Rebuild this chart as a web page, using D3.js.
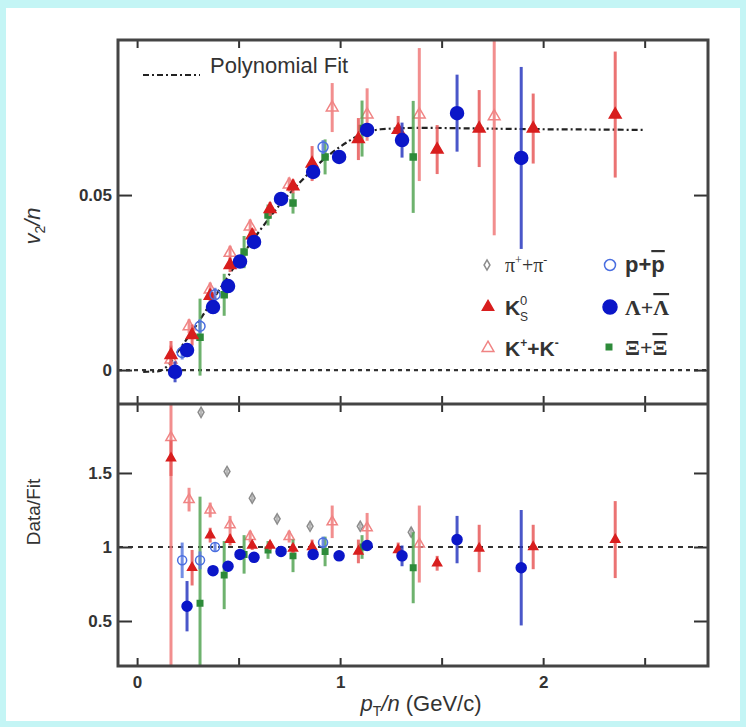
<!DOCTYPE html>
<html>
<head>
<meta charset="utf-8">
<script src="https://cdn.jsdelivr.net/npm/d3@7"></script>
<style>
  body { margin: 0; background: #c4f5f5; }
  svg { display: block; }
  text { font-family: "Liberation Sans", Arial, sans-serif; fill: #333; }
  .serif { font-family: "Liberation Serif", "Times New Roman", serif; }
</style>
</head>
<body>
<svg id="chart" width="746" height="727"></svg>
<script>

////////// DATA //////////

// polynomial fit
const fitPt = [0.03, 0.10, 0.15, 0.20, 0.25, 0.30, 0.35, 0.40, 0.50, 0.60, 0.70, 0.80, 0.90, 1.00, 1.10, 1.20, 1.40, 1.70, 2.00, 2.30, 2.49];
const fitV2 = [-0.0005, -0.0004, 0.0012, 0.0052, 0.0093, 0.0135, 0.0180, 0.0225, 0.0313, 0.0395, 0.0470, 0.0535, 0.0592, 0.0638, 0.0672, 0.0688, 0.0692, 0.0690, 0.0688, 0.0687, 0.0686];

// pi+ + pi- (only the ratio panel)
const pionPt = [0.315, 0.443, 0.567, 0.690, 0.852, 1.099, 1.350];
const pionRatio = [1.91, 1.51, 1.33, 1.19, 1.14, 1.14, 1.10];
const pionRatioErr = [0.02, 0.02, 0.02, 0.02, 0.02, 0.02, 0.03];

// K0s
const k0sPt = [0.167, 0.271, 0.360, 0.458, 0.567, 0.655, 0.768, 0.862, 1.090, 1.286, 1.478, 1.685, 1.951, 2.355];
const k0sV2 = [0.0043, 0.0100, 0.0212, 0.0300, 0.0385, 0.0460, 0.0525, 0.0590, 0.0660, 0.0686, 0.0630, 0.0690, 0.0690, 0.0730];
const k0sV2Err = [0.004, 0.003, 0.002, 0.002, 0.002, 0.002, 0.002, 0.005, 0.006, 0.004, 0.007, 0.011, 0.010, 0.018];
const k0sRatio = [1.60, 0.86, 1.08, 1.05, 1.01, 1.01, 0.99, 1.00, 0.97, 0.98, 0.89, 0.99, 1.00, 1.05];
const k0sRatioErr = [0.12, 0.12, 0.05, 0.04, 0.03, 0.03, 0.03, 0.05, 0.08, 0.05, 0.05, 0.16, 0.15, 0.26];

// K+ + K-
const kchPt = [0.167, 0.256, 0.360, 0.458, 0.557, 0.749, 0.961, 1.133, 1.390, 1.759];
const kchV2 = [0.0030, 0.0125, 0.0230, 0.0335, 0.0410, 0.0530, 0.0750, 0.0730, 0.0730, 0.0725];
const kchV2Err = [0.004, 0.002, 0.002, 0.002, 0.002, 0.002, 0.007, 0.0075, 0.019, 0.034];
const kchRatio = [1.74, 1.32, 1.25, 1.15, 1.07, 1.07, 1.17, 1.13, 1.02, null];
const kchRatioErr = [1.60, 0.08, 0.05, 0.06, 0.04, 0.04, 0.11, 0.10, 0.26, null];

// p + pbar
const protPt = [0.222, 0.310, 0.384, 0.916];
const protV2 = [0.0050, 0.0125, 0.0215, 0.0637];
const protV2Err = [0.002, 0.002, 0.002, 0.002];
const protRatio = [0.91, 0.91, 1.00, 1.03];
const protRatioErr = [0.12, 0.06, 0.03, 0.04];

// Lambda + Lambdabar
const lamPt = [0.187, 0.246, 0.374, 0.448, 0.507, 0.576, 0.709, 0.867, 0.995, 1.133, 1.305, 1.576, 1.892];
const lamV2 = [-0.0005, 0.0057, 0.0180, 0.0240, 0.0310, 0.0366, 0.0489, 0.0566, 0.0609, 0.0686, 0.0657, 0.0734, 0.0606];
const lamV2Err = [0.003, 0.002, 0.0015, 0.0015, 0.0015, 0.0015, 0.0015, 0.0015, 0.0015, 0.002, 0.005, 0.011, 0.026];
const lamRatio = [null, 0.60, 0.84, 0.87, 0.95, 0.93, 0.97, 0.95, 0.94, 1.01, 0.94, 1.05, 0.86];
const lamRatioErr = [null, 0.17, 0.03, 0.03, 0.03, 0.03, 0.02, 0.02, 0.02, 0.03, 0.07, 0.16, 0.39];

// Xi + Xibar
const xiPt = [0.310, 0.429, 0.527, 0.645, 0.768, 0.926, 1.108, 1.360];
const xiV2 = [0.0094, 0.0215, 0.0337, 0.0443, 0.0477, 0.0609, 0.0690, 0.0609];
const xiV2Err = [0.011, 0.006, 0.0046, 0.003, 0.003, 0.005, 0.008, 0.016];
const xiRatio = [0.62, 0.81, 0.95, 0.98, 0.94, 0.97, 1.00, 0.86];
const xiRatioErr = [0.72, 0.23, 0.13, 0.06, 0.11, 0.10, 0.08, 0.24];

// ticks and reference lines
const xTicks = [0, 0.5, 1, 1.5, 2, 2.5];
const xTickLabels = [0, 1, 2];
const yTopTicks = [0, 0.05];
const yBotTicks = [0.5, 1, 1.5];
const topRef = [0];
const botRef = [1];


////////// SETUP //////////

const svg = d3.select("#chart");

const frame = { left: 118, right: 708, top: 40, mid: 404, bottom: 666 };

const x = d3.scaleLinear().domain([-0.094, 2.812]).range([frame.left, frame.right]);
const yTop = d3.scaleLinear().domain([-0.0097, 0.0943]).range([frame.mid, frame.top]);
const yBot = d3.scaleLinear().domain([0.196, 1.966]).range([frame.bottom, frame.mid]);

// white sheet on cyan backdrop
svg.append("rect")
    .attr("x", 6).attr("y", 8)
    .attr("width", 734).attr("height", 713)
    .attr("fill", "white");

let defs = svg.append("defs");
defs.append("clipPath").attr("id", "clipTop")
  .append("rect")
    .attr("x", frame.left).attr("y", frame.top)
    .attr("width", frame.right - frame.left).attr("height", frame.mid - frame.top);
defs.append("clipPath").attr("id", "clipBot")
  .append("rect")
    .attr("x", frame.left).attr("y", frame.mid)
    .attr("width", frame.right - frame.left).attr("height", frame.bottom - frame.mid);

let topG = svg.append("g").attr("clip-path", "url(#clipTop)");
let botG = svg.append("g").attr("clip-path", "url(#clipBot)");


////////// REFERENCE LINES //////////

topG.selectAll(".ref")
    .data(topRef)
    .join("line")
    .attr("x1", frame.left).attr("x2", frame.right)
    .attr("y1", d => yTop(d)).attr("y2", d => yTop(d))
    .attr("stroke", "#333").attr("stroke-width", 2.2)
    .attr("stroke-dasharray", "4,4");

botG.selectAll(".ref")
    .data(botRef)
    .join("line")
    .attr("x1", frame.left).attr("x2", frame.right)
    .attr("y1", d => yBot(d)).attr("y2", d => yBot(d))
    .attr("stroke", "#333").attr("stroke-width", 2.2)
    .attr("stroke-dasharray", "5,5");

let fitLine = d3.line()
    .x((d, i) => x(fitPt[i]))
    .y(d => yTop(d))
    .curve(d3.curveMonotoneX);

topG.append("path")
    .datum(fitV2)
    .attr("d", fitLine)
    .attr("fill", "none")
    .attr("stroke", "#222")
    .attr("stroke-width", 2.2)
    .attr("stroke-dasharray", "6,3,2,3");


////////// DATA POINTS //////////

function marker(sel, shape, size, fill, stroke) {
  if (shape == "circle") {
    sel.append("circle")
      .attr("r", size)
      .attr("fill", fill)
      .attr("stroke", stroke)
      .attr("stroke-width", 1.5);
  } else {
    let type = { triangle: d3.symbolTriangle, diamond: d3.symbolDiamond, square: d3.symbolSquare }[shape];
    sel.append("path")
      .attr("d", d3.symbol().type(type).size(size))
      .attr("fill", fill)
      .attr("stroke", stroke)
      .attr("stroke-width", 1.5);
  }
}

function drawSeries(g, yScale, xs, ys, es, st) {
  let pts = xs.map((d, i) => ({ x: d, y: ys[i], e: es[i] })).filter(d => d.y != null);

  g.append("g").selectAll("line")
      .data(pts)
      .join("line")
      .attr("x1", d => x(d.x)).attr("x2", d => x(d.x))
      .attr("y1", d => yScale(d.y - d.e)).attr("y2", d => yScale(d.y + d.e))
      .attr("stroke", st.bar)
      .attr("stroke-width", 3)
      .attr("stroke-opacity", 0.85);

  let m = g.append("g").selectAll("g")
      .data(pts)
      .join("g")
      .attr("transform", d => "translate(" + x(d.x) + "," + yScale(d.y) + ")");
  marker(m, st.shape, st.size, st.fill, st.stroke);
}

const styles = {
  pion: { shape: "diamond", fill: "none", stroke: "#8c8c8c", bar: "#aaaaaa" },
  kch:  { shape: "triangle", fill: "none", stroke: "#f08484", bar: "#f07a7a" },
  k0s:  { shape: "triangle", fill: "#d81e1e", stroke: "#d81e1e", bar: "#e85a5a" },
  prot: { shape: "circle", fill: "none", stroke: "#4a6ee0", bar: "#5a7ae0" },
  lam:  { shape: "circle", fill: "#0b16c8", stroke: "#0b16c8", bar: "#2a3ac0" },
  xi:   { shape: "square", fill: "#2e8b3a", stroke: "#2e8b3a", bar: "#55a455" }
};

function sized(st, size) { return Object.assign({}, st, { size: size }); }

// top panel
drawSeries(topG, yTop, kchPt, kchV2, kchV2Err, sized(styles.kch, 60));
drawSeries(topG, yTop, xiPt, xiV2, xiV2Err, sized(styles.xi, 36));
drawSeries(topG, yTop, k0sPt, k0sV2, k0sV2Err, sized(styles.k0s, 60));
drawSeries(topG, yTop, protPt, protV2, protV2Err, sized(styles.prot, 5));
drawSeries(topG, yTop, lamPt, lamV2, lamV2Err, sized(styles.lam, 6.5));

// ratio panel
drawSeries(botG, yBot, pionPt, pionRatio, pionRatioErr, sized(styles.pion, 30));
drawSeries(botG, yBot, kchPt, kchRatio, kchRatioErr, sized(styles.kch, 45));
drawSeries(botG, yBot, xiPt, xiRatio, xiRatioErr, sized(styles.xi, 30));
drawSeries(botG, yBot, k0sPt, k0sRatio, k0sRatioErr, sized(styles.k0s, 35));
drawSeries(botG, yBot, protPt, protRatio, protRatioErr, sized(styles.prot, 4.5));
drawSeries(botG, yBot, lamPt, lamRatio, lamRatioErr, sized(styles.lam, 5));


////////// AXES //////////

function styleAxis(g) {
  g.select(".domain").remove();
  g.selectAll(".tick line").attr("stroke", "#333").attr("stroke-width", 2);
  g.selectAll(".tick text")
    .style("font-size", "17px")
    .style("font-weight", "bold")
    .attr("fill", "#333");
}

svg.append("g")
    .attr("transform", "translate(" + frame.left + ",0)")
    .call(d3.axisLeft(yTop).tickValues(yTopTicks).tickSize(-14).tickPadding(6).tickFormat(d3.format("")))
    .call(styleAxis);
svg.append("g")
    .attr("transform", "translate(" + frame.left + ",0)")
    .call(d3.axisLeft(yBot).tickValues(yBotTicks).tickSize(-14).tickPadding(6).tickFormat(d3.format("")))
    .call(styleAxis);
svg.append("g")
    .attr("transform", "translate(" + frame.right + ",0)")
    .call(d3.axisRight(yTop).tickValues(yTopTicks).tickSize(-14).tickFormat(""))
    .call(styleAxis);
svg.append("g")
    .attr("transform", "translate(" + frame.right + ",0)")
    .call(d3.axisRight(yBot).tickValues(yBotTicks).tickSize(-14).tickFormat(""))
    .call(styleAxis);

// x ticks on every horizontal edge, pointing into the panels
svg.append("g")
    .attr("transform", "translate(0," + frame.top + ")")
    .call(d3.axisTop(x).tickValues(xTicks).tickSize(-8).tickFormat(""))
    .call(styleAxis);
svg.append("g")
    .attr("transform", "translate(0," + frame.mid + ")")
    .call(d3.axisBottom(x).tickValues(xTicks).tickSize(-8).tickFormat(""))
    .call(styleAxis);
svg.append("g")
    .attr("transform", "translate(0," + frame.mid + ")")
    .call(d3.axisTop(x).tickValues(xTicks).tickSize(-8).tickFormat(""))
    .call(styleAxis);
svg.append("g")
    .attr("transform", "translate(0," + frame.bottom + ")")
    .call(d3.axisBottom(x).tickValues(xTicks).tickSize(-8).tickPadding(10)
      .tickFormat(d => xTickLabels.includes(d) ? d : ""))
    .call(styleAxis);

// frame
svg.append("rect")
    .attr("x", frame.left).attr("y", frame.top)
    .attr("width", frame.right - frame.left).attr("height", frame.bottom - frame.top)
    .attr("fill", "none").attr("stroke", "#444").attr("stroke-width", 3);
svg.append("line")
    .attr("x1", frame.left).attr("x2", frame.right)
    .attr("y1", frame.mid).attr("y2", frame.mid)
    .attr("stroke", "#444").attr("stroke-width", 3);


////////// AXIS TITLES //////////

let yt = svg.append("text")
    .attr("transform", "translate(40,226) rotate(-90)")
    .attr("text-anchor", "middle")
    .style("font-size", "22px");
yt.append("tspan").style("font-style", "italic").text("v");
yt.append("tspan").attr("dy", 5).style("font-size", "14px").text("2");
yt.append("tspan").attr("dy", -5).style("font-style", "italic").text("/n");

svg.append("text")
    .attr("transform", "translate(40,512) rotate(-90)")
    .attr("text-anchor", "middle")
    .style("font-size", "19px")
    .text("Data/Fit");

let xt = svg.append("text")
    .attr("x", 421).attr("y", 711)
    .attr("text-anchor", "middle")
    .style("font-size", "22px");
xt.append("tspan").style("font-style", "italic").text("p");
xt.append("tspan").attr("dy", 5).style("font-size", "14px").text("T");
xt.append("tspan").attr("dy", -5).style("font-style", "italic").text("/n");
xt.append("tspan").text(" (GeV/c)");


////////// LEGENDS //////////

svg.append("line")
    .attr("x1", 143).attr("x2", 200)
    .attr("y1", 75).attr("y2", 75)
    .attr("stroke", "#222").attr("stroke-width", 2.2)
    .attr("stroke-dasharray", "6,3,2,3");
svg.append("text")
    .attr("x", 210).attr("y", 73)
    .style("font-size", "22px")
    .text("Polynomial Fit");

let legendItems = [
  { key: "pion", x: 487, y: 265, size: 30 },
  { key: "k0s",  x: 488, y: 307, size: 55 },
  { key: "kch",  x: 488, y: 348, size: 60 },
  { key: "prot", x: 610, y: 265, size: 5.5 },
  { key: "lam",  x: 610, y: 307, size: 7 },
  { key: "xi",   x: 609, y: 347, size: 30 }
];
legendItems.forEach(d => {
  let g = svg.append("g").attr("transform", "translate(" + d.x + "," + d.y + ")");
  let st = styles[d.key];
  marker(g, st.shape, d.size, st.fill, st.stroke);
});

// pi+ + pi-
let tPi = svg.append("text").attr("class", "serif").attr("x", 505).attr("y", 272).style("font-size", "20px");
tPi.append("tspan").text("π");
tPi.append("tspan").attr("dy", -8).style("font-size", "12px").text("+");
tPi.append("tspan").attr("dy", 8).text("+π");
tPi.append("tspan").attr("dy", -8).style("font-size", "12px").text("-");

// K0s
svg.append("text").attr("x", 505).attr("y", 315).style("font-size", "21px").style("font-weight", "bold").text("K");
svg.append("text").attr("x", 520).attr("y", 305).style("font-size", "13px").text("0");
svg.append("text").attr("x", 520).attr("y", 321).style("font-size", "12px").text("S");

// K+ + K-
let tK = svg.append("text").attr("x", 505).attr("y", 356).style("font-size", "21px").style("font-weight", "bold");
tK.append("tspan").text("K");
tK.append("tspan").attr("dy", -9).style("font-size", "12px").text("+");
tK.append("tspan").attr("dy", 9).text("+K");
tK.append("tspan").attr("dy", -9).style("font-size", "12px").text("-");

// p + pbar
let tP = svg.append("text").attr("x", 625).attr("y", 272).style("font-size", "22px").style("font-weight", "bold");
tP.append("tspan").text("p+");
tP.append("tspan").style("text-decoration", "overline").text("p");

// Lambda + Lambdabar
let tL = svg.append("text").attr("class", "serif").attr("x", 625).attr("y", 315).style("font-size", "22px").style("font-weight", "bold");
tL.append("tspan").text("Λ+");
tL.append("tspan").style("text-decoration", "overline").text("Λ");

// Xi + Xibar
let tX = svg.append("text").attr("class", "serif").attr("x", 625).attr("y", 355).style("font-size", "22px").style("font-weight", "bold");
tX.append("tspan").text("Ξ+");
tX.append("tspan").style("text-decoration", "overline").text("Ξ");

</script>
</body>
</html>
